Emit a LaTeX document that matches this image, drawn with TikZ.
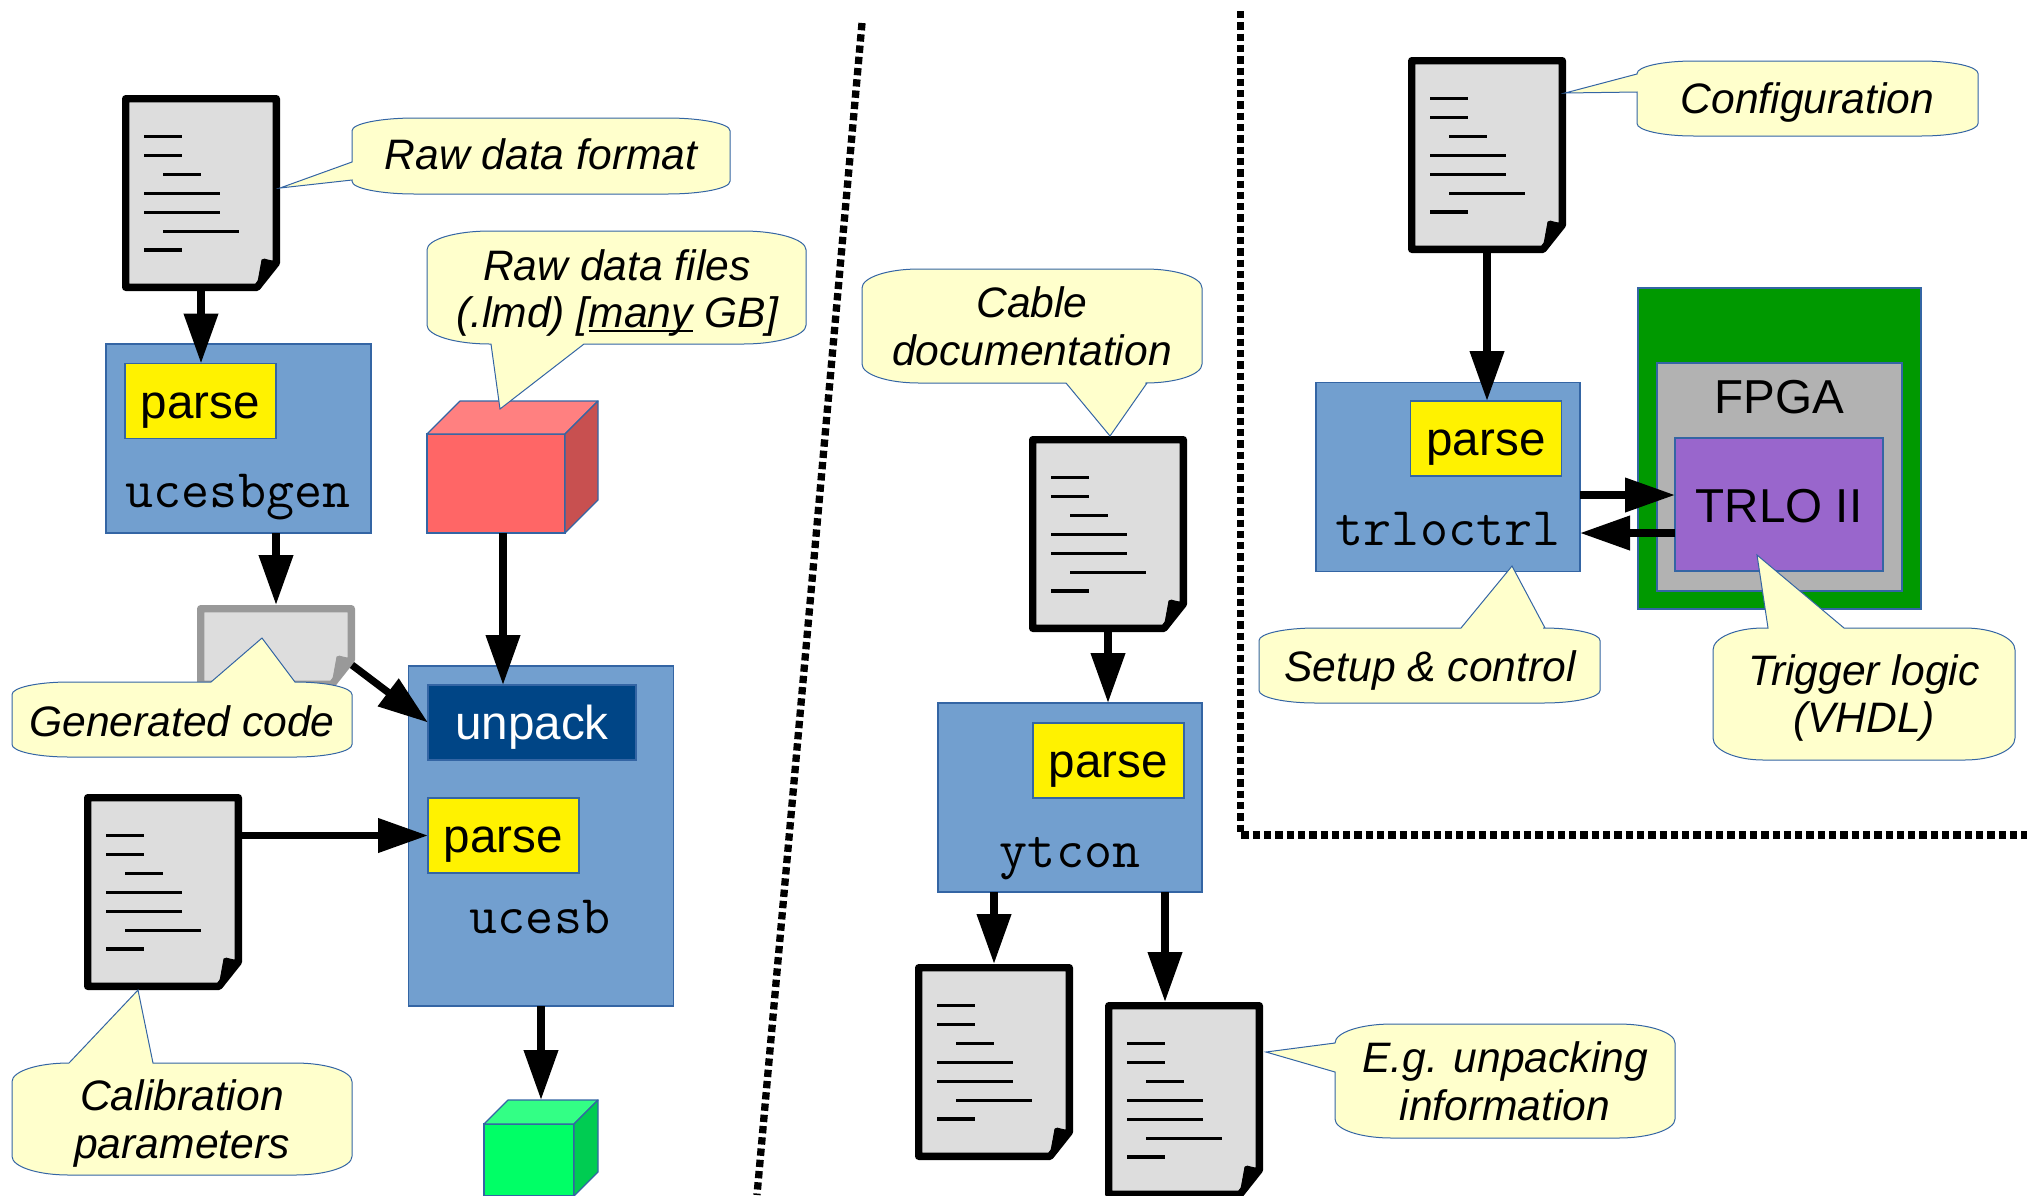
\documentclass[tikz,border=0pt]{standalone}
\usepackage{fontspec}
\usetikzlibrary{arrows.meta}
\setmainfont{Liberation Sans}
\definecolor{tangoline}{HTML}{3465A4}
\definecolor{tangoblue}{HTML}{729FCF}
\definecolor{darkblue}{HTML}{004586}
\definecolor{notecream}{HTML}{FFFFCC}
\definecolor{sheetgray}{HTML}{DDDDDD}
\definecolor{framegray}{HTML}{999999}
\definecolor{fpgagreen}{HTML}{009900}
\definecolor{fpgagray}{HTML}{B2B2B2}
\definecolor{trlopurple}{HTML}{9966CC}
\definecolor{rawfront}{HTML}{FF6666}
\definecolor{rawtop}{HTML}{FF8080}
\definecolor{rawside}{HTML}{C85050}
\definecolor{outfront}{HTML}{00FF66}
\definecolor{outtop}{HTML}{33FF85}
\definecolor{outside}{HTML}{00CC52}
\newcommand{\underrule}[1]{\setbox0\hbox{#1}\rlap{\rule[-2pt]{\wd0}{.7pt}}\box0\relax}
\newcommand{\docsheet}[5]{
	\node[sheetnode,boxsize={158}{#4}] (#1) at (#2+79,#3+#4/2) {};
	\begin{scope}[shift={(#1.north west)}]
		\draw[sheetline,draw=#5] (3.65,3.65) -- (154.35,3.65) -- (154.35,#4-28) -- (135,#4-3.65) -- (3.65,#4-3.65) -- cycle;
		\fill[#5,draw=#5,line width=.5pt,line join=round] (135,#4-3.65) -- (140,#4-31) .. controls (143,#4-34) and (147,#4-28) .. (154.35,#4-31) -- (154.35,#4-28) -- cycle;
	\end{scope}
}
\newcommand{\doclines}[1]{
	\begin{scope}[shift={(#1.north west)}]
		\foreach \ly/\la/\lb in {41.7/22/60,60.6/22/60,79.5/41/79,98.4/22/98,117.3/22/98,136.2/41/117,155.1/22/60}
			\draw[textrow] (\la,\ly) -- (\lb,\ly);
	\end{scope}
}
\newcommand{\cubeat}[9]{
	\node[cubefront,fill=#7,boxsize={#4}{#5}] (#1) at (#2,#3) {};
	\draw[cubeedge,fill=#8] (#1.north west) -- ++(#6,-#6) -- ++(#4,0) -- ++(-#6,#6) -- cycle;
	\draw[cubeedge,fill=#9] (#1.north east) -- ++(#6,-#6) -- ++(0,#5) -- (#1.south east) -- cycle;
}
\newcommand{\callout}[7]{
	\pgfmathsetmacro{\crx}{(#3-#1)/6}
	\pgfmathsetmacro{\cry}{(#4-#2)/6}
	\draw[noteshape] (#1+\crx,#2) #5 -- (#3-\crx,#2) arc[start angle=-90,end angle=0,x radius=\crx,y radius=\cry] -- (#3,#4-\cry) arc[start angle=0,end angle=90,x radius=\crx,y radius=\cry] #6 -- (#1+\crx,#4) arc[start angle=90,end angle=180,x radius=\crx,y radius=\cry] #7 -- (#1,#2+\cry) arc[start angle=180,end angle=270,x radius=\crx,y radius=\cry] -- cycle;
}
\begin{document}
\begin{tikzpicture}[x=.5pt,y=-.5pt]
		\tikzset{boxsize/.style 2 args = {minimum width=#1*.5pt,minimum height=#2*.5pt}}
		\tikzset{flatbox/.style = {shape=rectangle,inner sep=0pt,outer sep=0pt,draw=tangoline,line width=.6pt}}
		\tikzset{program/.style = {flatbox,fill=tangoblue}}
		\tikzset{boxword/.style = {font=\fontsize{23.8}{26}\selectfont,text height=17pt,text depth=0pt}}
		\tikzset{parser/.style = {flatbox,boxword,fill=yellow,boxsize={151}{75}}}
		\tikzset{progname/.style = {anchor=base,font=\ttfamily\fontsize{27.2}{30}\selectfont}}
		\tikzset{sheetnode/.style = {shape=rectangle,inner sep=0pt,outer sep=0pt}}
		\tikzset{sheetline/.style = {fill=sheetgray,line width=3.65pt,line join=round}}
		\tikzset{textrow/.style = {line width=1.7pt}}
		\tikzset{cubefront/.style = {flatbox}}
		\tikzset{cubeedge/.style = {draw=tangoline,line width=.6pt,line join=round}}
		\tikzset{noteshape/.style = {fill=notecream,draw=tangoline,line width=.5pt}}
		\tikzset{notetext/.style = {align=center,font=\itshape\fontsize{21.3}{23.8}\selectfont}}
		\tikzset{flow/.style = {-{Triangle[length=25pt,width=16.5pt]},line width=3.65pt}}
		\tikzset{divider/.style = {line width=3.65pt,dash pattern=on 3.65pt off 2pt}}
		\useasboundingbox (0,0) rectangle (2027,1195);

		\coordinate (splitatop) at (862,23);
		\coordinate (splitabot) at (757,1195);
		\coordinate (splitbtop) at (1240.5,11);
		\coordinate (splitbbend) at (1240.5,835);
		\coordinate (splitbend) at (2027,835);
		\draw[divider] (splitatop) -- (splitabot);
		\draw[divider] (splitbtop) -- (splitbbend) -- (splitbend);

		\docsheet{rawdoc}{122}{95}{196}{black}
		\doclines{rawdoc}
		\docsheet{gendoc}{197}{605}{83}{framegray}
		\docsheet{calibdoc}{84}{794}{196}{black}
		\doclines{calibdoc}
		\docsheet{cabledoc}{1029}{436}{196}{black}
		\doclines{cabledoc}
		\docsheet{outdoca}{915}{964}{196}{black}
		\doclines{outdoca}
		\docsheet{outdocb}{1105}{1002}{196}{black}
		\doclines{outdocb}
		\docsheet{configdoc}{1408}{57}{196}{black}
		\doclines{configdoc}

		\node[program,boxsize={265}{189}] (ucesbgen) at (238.5,438.5) {};
		\node[parser] (genparse) at (200.5,401) {parse};
		\node[progname] (ucesbgenname) at (238,507) {ucesbgen};

		\cubeat{rawcube}{496}{483.5}{138}{99}{33}{rawfront}{rawtop}{rawside}
		\coordinate (rawfoot) at (503,533);
		\coordinate (genfoot) at (352,665);

		\node[program,boxsize={265}{340}] (ucesb) at (541,836) {};
		\node[flatbox,boxword,fill=darkblue,text=white,boxsize={208}{75}] (unpack) at (532,722.5) {unpack};
		\node[parser] (ucesbparse) at (503.5,835.5) {parse};
		\node[progname] (ucesbname) at (540,933) {ucesb};

		\cubeat{outcube}{529}{1160}{90}{72}{24}{outfront}{outtop}{outside}
		\coordinate (outcubetop) at (541,1100);

		\node[program,boxsize={264}{189}] (ytcon) at (1070,797.5) {};
		\node[parser] (ytparse) at (1108.5,760.5) {parse};
		\node[progname] (ytconname) at (1070,867) {ytcon};
		\coordinate (ytfoot) at (1165,892);

		\node[program,boxsize={264}{189}] (trloctrl) at (1448,477) {};
		\node[parser] (trloparse) at (1486,438.5) {parse};
		\node[progname] (trloctrlname) at (1448,545) {trloctrl};

		\node[flatbox,fill=fpgagreen,boxsize={283}{321}] (board) at (1779.5,448.5) {};
		\node[flatbox,fill=fpgagray,boxsize={245}{228}] (fpga) at (1779.5,477) {};
		\node[flatbox,fill=trlopurple,boxsize={208}{133}] (trlo) at (1779,504.5) {};
		\node[font=\fontsize{23.8}{26}\selectfont] (fpganame) at (1779,397) {FPGA};
		\node[font=\fontsize{23.8}{26}\selectfont] (trloname) at (1779,506) {TRLO II};
		\coordinate (trloin) at (1675,495);
		\coordinate (trloout) at (1675,533);

		\path[flow,draw] (rawdoc.south) -- (rawdoc |- genparse.north);
		\path[flow,draw] (gendoc |- ucesbgen.south) -- (gendoc.north);
		\path[flow,draw] (rawfoot) -- (rawfoot |- unpack.north);
		\path[flow,draw] (genfoot) -- (unpack.west);
		\path[flow,draw] (calibdoc.east |- ucesbparse.west) -- (ucesbparse.west);
		\path[flow,draw] (ucesb.south) -- (outcubetop);
		\path[flow,draw] (cabledoc.south) -- (cabledoc |- ytcon.north);
		\path[flow,draw] (outdoca |- ytcon.south) -- (outdoca.north);
		\path[flow,draw] (ytfoot) -- (ytfoot |- outdocb.north);
		\path[flow,draw] (configdoc.south) -- (configdoc |- trloparse.north);
		\path[flow,draw] (trloctrl.east |- trloin) -- (trloin);
		\path[flow,draw] (trloout) -- (trloctrl.east |- trloout);

		\callout{352}{118}{730}{194}{}{}{-- (352,180) -- (280,188) -- (352,162)}
		\node[notetext] (rawformat) at (541,154.7) {Raw data format};
		\callout{427}{231}{806}{344}{}{-- (584,344) -- (500,409) -- (491,344)}{}
		\node[notetext] (rawfiles) at (617,293) {Raw data files\\(.lmd) [\underrule{many} GB]};
		\callout{12}{682}{352}{757}{-- (211,682) -- (262,638) -- (295,682)}{}{}
		\node[notetext] (gencode) at (182,721) {Generated code};
		\callout{12}{1063}{352}{1175}{-- (69,1063) -- (138,990) -- (153,1063)}{}{}
		\node[notetext] (calib) at (182,1123.5) {Calibration\\parameters};
		\callout{862}{269}{1202}{383}{}{-- (1147,383) -- (1110,436) -- (1066,383)}{}
		\node[notetext] (cabledocu) at (1032,326) {Cable\\documentation};
		\callout{1637}{61}{1978}{136}{}{}{-- (1637,92) -- (1565,93) -- (1637,74)}
		\node[notetext] (config) at (1807.5,102.5) {Configuration};
		\callout{1259}{628}{1600}{703}{-- (1461,628) -- (1512,566) -- (1545,628)}{}{}
		\node[notetext] (setup) at (1430,670.5) {Setup \& control};
		\callout{1713}{628}{2015}{760}{-- (1768,628) -- (1757,555) -- (1844,628)}{}{}
		\node[notetext] (trigger) at (1864,698) {Trigger logic\\(VHDL)};
		\callout{1335}{1024}{1675}{1138}{}{}{-- (1335,1072) -- (1266,1052) -- (1335,1043)}
		\node[notetext] (unpackinfo) at (1505,1081) {E.g. unpacking\\information};
	\end{tikzpicture}
\end{document}
